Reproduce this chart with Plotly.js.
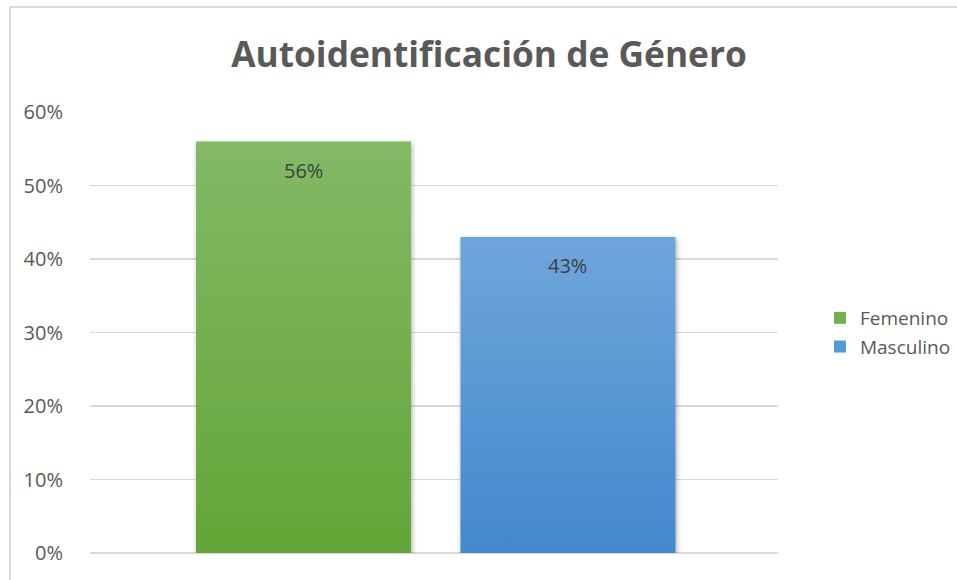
<!DOCTYPE html>
<html>
<head>
<meta charset="utf-8">
<script src="https://cdn.plot.ly/plotly-3.0.1.min.js"></script>
<style>
  html, body { margin: 0; padding: 0; background: #ffffff; overflow: hidden; }
  #wrap { position: relative; width: 957px; height: 580px; overflow: hidden; }
  #chart { position: absolute; left: 0; top: 0; width: 957px; height: 580px; }
  #frame { position: absolute; left: 9px; top: 6px; width: 1200px; height: 1200px;
           border: 2px solid #d9d9d9; pointer-events: none; box-sizing: border-box; }
</style>
</head>
<body>
<div id="wrap">
  <div id="chart"></div>
  <div id="frame"></div>
</div>
<script>
const chartTitle = 'Autoidentificación de Género';
const seriesNames = ['Femenino', 'Masculino'];
const femeninoValues = [0.56];
const masculinoValues = [0.43];
const seriesColors = ['#74b04f', '#5599d6'];
const gradientStops = [['#83b966', '#63a537'], ['#6fa5db', '#4289cc']];

const makeTrace = (name, values, color) => ({
  type: 'bar',
  name: name,
  x: values.map(() => name),
  y: values,
  legendgroup: name,
  marker: { color: color, line: { width: 0 } },
  hoverinfo: 'skip'
});

const data = [
  makeTrace(seriesNames[0], femeninoValues, seriesColors[0]),
  makeTrace(seriesNames[1], masculinoValues, seriesColors[1])
];

const labelAnnotations = [];
[[seriesNames[0], femeninoValues], [seriesNames[1], masculinoValues]].forEach(function (s) {
  s[1].forEach(function (v) {
    labelAnnotations.push({
      x: s[0], y: v, xref: 'x', yref: 'y',
      text: Math.round(v * 100) + '%',
      showarrow: false,
      yanchor: 'middle', xanchor: 'center',
      yshift: -29,
      font: { family: 'Open Sans, sans-serif', size: 20, color: '#404040' }
    });
  });
});

const layout = {
  width: 957,
  height: 580,
  paper_bgcolor: '#ffffff',
  plot_bgcolor: '#ffffff',
  margin: { l: 90, r: 179, t: 112, b: 27, autoexpand: false },
  title: {
    text: '<b>' + chartTitle + '</b>',
    font: { family: 'Open Sans, sans-serif', size: 35.3, color: '#595959' },
    x: 489 / 957,
    xanchor: 'center',
    xref: 'container',
    y: 1 - 55 / 580,
    yanchor: 'middle',
    yref: 'container'
  },
  barmode: 'overlay',
  bargap: 0.187,
  showlegend: true,
  legend: {
    x: 1.061,
    xanchor: 'left',
    y: 0.5,
    yanchor: 'middle',
    traceorder: 'grouped',
    tracegroupgap: 1,
    font: { family: 'Open Sans, sans-serif', size: 19, color: '#595959' },
    bgcolor: 'rgba(0,0,0,0)',
    itemwidth: 30
  },
  annotations: labelAnnotations,
  xaxis: {
    type: 'category',
    range: [-0.8072, 1.794],
    showgrid: false,
    showline: false,
    zeroline: false,
    showticklabels: false,
    ticks: '',
    fixedrange: true
  },
  yaxis: {
    range: [0, 0.6],
    dtick: 0.1,
    tick0: 0,
    tickformat: '.0%',
    showgrid: true,
    gridcolor: '#d9d9d9',
    gridwidth: 1.5,
    zeroline: true,
    zerolinecolor: '#d9d9d9',
    zerolinewidth: 1.5,
    showline: false,
    ticks: 'outside',
    ticklen: 22,
    tickcolor: 'rgba(0,0,0,0)',
    tickfont: { family: 'Open Sans, sans-serif', size: 20, color: '#595959' },
    fixedrange: true
  }
};

Plotly.newPlot('chart', data, layout, { displayModeBar: false, staticPlot: true }).then(function (gd) {
  // Vertical gradients and a soft shadow on the bars, like the original.
  const svg = gd.querySelector('svg.main-svg');
  if (!svg) return;
  const ns = 'http://www.w3.org/2000/svg';
  let defs = svg.querySelector('defs');
  if (!defs) { defs = document.createElementNS(ns, 'defs'); svg.insertBefore(defs, svg.firstChild); }
  const filt = document.createElementNS(ns, 'filter');
  filt.setAttribute('id', 'barShadow');
  filt.setAttribute('x', '-10%'); filt.setAttribute('y', '-10%');
  filt.setAttribute('width', '120%'); filt.setAttribute('height', '120%');
  const ds = document.createElementNS(ns, 'feDropShadow');
  ds.setAttribute('dx', '1'); ds.setAttribute('dy', '2');
  ds.setAttribute('stdDeviation', '2.5');
  ds.setAttribute('flood-color', '#000'); ds.setAttribute('flood-opacity', '0.35');
  filt.appendChild(ds);
  defs.appendChild(filt);
  gradientStops.forEach(function (stops, i) {
    const g = document.createElementNS(ns, 'linearGradient');
    g.setAttribute('id', 'barGrad' + i);
    g.setAttribute('x1', '0'); g.setAttribute('y1', '0');
    g.setAttribute('x2', '0'); g.setAttribute('y2', '1');
    [[0, stops[0]], [1, stops[1]]].forEach(function (s) {
      const st = document.createElementNS(ns, 'stop');
      st.setAttribute('offset', s[0]);
      st.setAttribute('stop-color', s[1]);
      g.appendChild(st);
    });
    defs.appendChild(g);
  });
  const traces = gd.querySelectorAll('.barlayer .trace');
  traces.forEach(function (t, i) {
    t.querySelectorAll('.point path').forEach(function (p) {
      p.style.fill = 'url(#barGrad' + i + ')';
      p.setAttribute('filter', 'url(#barShadow)');
    });
  });
});
</script>
</body>
</html>
